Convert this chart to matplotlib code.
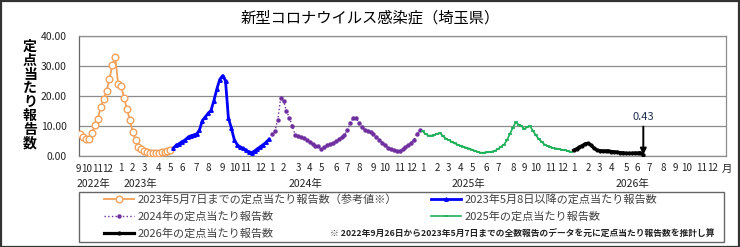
from datetime import date, timedelta
import numpy as np
import matplotlib
matplotlib.use("Agg")
import matplotlib.pyplot as plt
from matplotlib.patches import Rectangle

plt.rcParams['font.family'] = ['Noto Sans CJK JP', 'DejaVu Sans']

# 週データ (2022年9月26日の週 = 0)
start_day = date(2022, 9, 26)
n_weeks = 223

orange_vals = [7.3, 6.2, 5.8, 5.6, 7.8, 10.2, 12.5, 16.5, 19.0, 21.8, 25.6, 30.4,
               32.9, 24.0, 23.3, 19.5, 15.8, 12.0, 8.0, 5.2, 3.1, 2.3, 1.7, 1.3,
               1.0, 0.9, 0.9, 1.1, 1.3, 1.5, 1.7, 2.0]
blue_vals = [2.6, 3.6, 4.1, 4.8, 5.3, 6.2, 6.7, 7.0, 7.3, 8.6, 11.8, 13.0,
             14.2, 15.2, 18.5, 22.3, 25.5, 26.8, 25.0, 12.6, 9.4, 5.5, 3.8, 3.0,
             2.6, 2.0, 1.4, 1.1, 1.7, 2.4, 3.1, 3.8, 4.6, 5.6]
purple_vals = [7.2, 8.4, 12.0, 19.2, 18.4, 15.0, 12.8, 10.0, 7.0, 6.8, 6.5, 5.9,
               5.3, 4.6, 3.9, 3.5, 3.2, 2.4, 3.1, 3.6, 4.0, 4.4, 4.9, 5.6,
               6.4, 7.0, 8.7, 11.0, 12.6, 12.6, 11.0, 9.6, 8.7, 8.4, 8.0, 7.4,
               6.5, 5.4, 4.5, 3.6, 2.8, 2.2, 2.0, 1.8, 1.8, 2.2, 2.9, 3.7,
               4.4, 5.4, 7.5, 8.6]
green_vals = [8.2, 7.3, 6.8, 6.8, 7.0, 7.4, 7.6, 6.6, 5.8, 5.3, 4.7, 4.2,
              3.8, 3.4, 3.1, 2.8, 2.5, 2.1, 1.7, 1.4, 1.1, 1.1, 1.2, 1.3,
              1.5, 1.8, 2.4, 3.1, 3.8, 5.3, 7.3, 9.4, 11.2, 10.5, 10.0, 9.0,
              9.6, 10.0, 8.3, 6.9, 5.6, 4.7, 3.8, 3.3, 2.9, 2.7, 2.5, 2.3,
              2.1, 2.0, 1.6, 1.4]
black_vals = [1.9, 2.4, 3.0, 3.5, 4.1, 4.2, 3.6, 2.6, 2.0, 1.8, 1.7, 1.7,
              1.7, 1.5, 1.4, 1.3, 1.1, 1.1, 0.9, 0.9, 0.9, 1.0, 1.0, 1.1, 0.43]

series_start = [0, 32, 66, 118, 170]
series_labels = ['2023年5月7日までの定点当たり報告数（参考値※）',
                 '2024年の定点当たり報告数',
                 '2026年の定点当たり報告数',
                 '2023年5月8日以降の定点当たり報告数',
                 '2025年の定点当たり報告数']

year_labels = ['2022年', '2023年', '2024年', '2025年', '2026年']
year_pos = [4.3, 20.5, 77.4, 133.6, 190.2]

# 月ラベル (木曜日の属する月)
month_pos, month_lab = [], []
prev = None
for i in range(n_weeks):
    thu = start_day + timedelta(weeks=i, days=3)
    if thu.month != prev:
        month_pos.append(i)
        month_lab.append(str(thu.month))
        prev = thu.month

W, H = 740, 247
fig = plt.figure(figsize=(W / 100, H / 100), dpi=100)
ax = fig.add_axes([79 / W, (H - 156) / H, (726 - 79) / W, 120 / H])

x0 = np.arange(series_start[0], series_start[0] + len(orange_vals))
x1 = np.arange(series_start[1], series_start[1] + len(blue_vals))
x2 = np.arange(series_start[2], series_start[2] + len(purple_vals))
x3 = np.arange(series_start[3], series_start[3] + len(green_vals))
x4 = np.arange(series_start[4], series_start[4] + len(black_vals))

l_or, = ax.plot(x0, orange_vals, color='#F4A15A', lw=1.3, marker='o', ms=4.8,
                mfc='white', mec='#F4A15A', mew=1.0, zorder=3)
l_bl, = ax.plot(x1, blue_vals, color='#0000FF', lw=2.0, marker='^', ms=2.5, zorder=3)
l_pu, = ax.plot(x2, purple_vals, color='#7030A0', lw=1.0, ls=':', marker='o', ms=2.2, zorder=3)
l_gr, = ax.plot(x3, green_vals, color='#1DB058', lw=1.2, marker='_', ms=3.5, mew=1.2, zorder=3)
l_bk, = ax.plot(x4, black_vals, color='black', lw=2.3, marker='o', ms=2.0, zorder=4)

ax.annotate('0.43', xy=(x4[-1], black_vals[-1]), xytext=(x4[-1], 11.2),
            ha='center', va='bottom', fontsize=8, color='#1F2F4F',
            arrowprops=dict(arrowstyle='-|>', color='black', lw=1.4,
                            mutation_scale=9, shrinkA=1, shrinkB=0))

ax.set_xlim(-0.5, n_weeks - 0.5)
ax.set_ylim(0, 40)
ax.set_yticks([0, 10, 20, 30, 40])
ax.set_yticklabels(['%.2f' % v for v in [0, 10, 20, 30, 40]], fontsize=7.5)
ax.grid(axis='y', color='#8C8C8C', lw=0.9)
ax.set_axisbelow(True)
# 最初の4つ(9,10,11,12)は詰まっているので手で置く
ax.set_xticks(month_pos[4:])
ax.set_xticklabels(month_lab[4:], fontsize=7)
xt = ax.get_xaxis_transform()
first_pos = [0.2, 0.2, 6.0, 9.4]
first_ha = ['right', 'left', 'center', 'center']
for lab, p, ha in zip(month_lab[:4], first_pos, first_ha):
    ax.text(p, -0.105, lab, transform=xt, ha=ha, va='center',
            fontsize=7, color='#222222')
ax.tick_params(axis='both', length=0, colors='#222222')
ax.tick_params(axis='y', pad=9)
ax.tick_params(axis='x', pad=5)
for s in ax.spines.values():
    s.set_color('#8C8C8C')
    s.set_linewidth(0.9)
ax.spines['left'].set_color('#666666')

for lab, p in zip(year_labels, year_pos):
    ax.text(p, -0.23, lab, transform=xt, ha='center',
            va='center', fontsize=7.5, color='#222222')
ax.text(n_weeks - 0.2, -0.105, '月', transform=xt,
        ha='center', va='center', fontsize=7.5, color='#222222')

fig.text(0.5, 1 - 18 / H, '新型コロナウイルス感染症（埼玉県）', ha='center', va='center',
         fontsize=11)

for k, ch in enumerate('定点当たり報告数'):
    fig.text(30 / W, 1 - (47 + k * 13.8) / H, ch, ha='center', va='center',
             fontsize=10, fontweight='bold')

# 凡例
fig.patches.append(Rectangle((79 / W, 1 - 242 / H), (724 - 79) / W, 50 / H,
                             transform=fig.transFigure, fill=False,
                             edgecolor='#666666', lw=1.0))
leg = fig.legend([l_or, l_pu, l_bk, l_bl, l_gr], series_labels, ncol=2,
                 loc='upper left', bbox_to_anchor=(104 / W, 1 - 194.5 / H),
                 frameon=False, fontsize=8, handlelength=2.7, handletextpad=0.3,
                 columnspacing=3.1, labelspacing=0.55, borderpad=0, borderaxespad=0)
for t in leg.get_texts():
    t.set_color('#404040')

fig.text(715 / W, 1 - 233 / H,
         '※ 2022年9月26日から2023年5月7日までの全数報告のデータを元に定点当たり報告数を推計し算',
         ha='right', va='center', fontsize=6.3, fontweight='bold', color='#222222')

# 外枠
fig.patches.append(Rectangle((0.001, 0.002), 0.997, 0.995, transform=fig.transFigure,
                             fill=False, edgecolor='#333333', lw=1.6))

fig.savefig('out.png', dpi=100)
